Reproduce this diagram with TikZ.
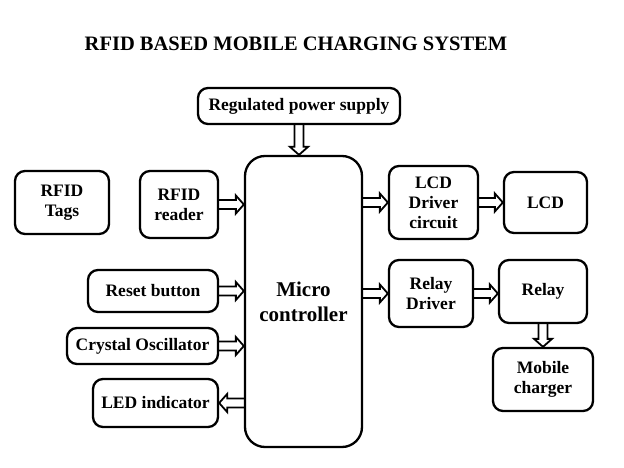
\documentclass[tikz,border=0pt]{standalone}
\usepackage{fontspec}
\setmainfont{Liberation Serif}
\usetikzlibrary{calc}
\tikzset{
  block/.style={draw, line width=2.3pt, rounded corners=10pt, align=center, inner sep=1pt,
    font=\bfseries\fontsize{17.5}{20}\selectfont},
  fat/.style={line width=1.8pt, line join=miter, to path={
    let \p1=(\tikztostart), \p2=(\tikztotarget),
        \n1={atan2(\y2-\y1,\x2-\x1)}, \n2={veclen(\x2-\x1,\y2-\y1)}
    in ($(\p1)+(\n1+90:4.5pt)$) -- ($(\p1)+(\n1:{\n2-8pt})+(\n1+90:4.5pt)$)
      -- ($(\p1)+(\n1:{\n2-8pt})+(\n1+90:9pt)$) -- (\p2)
      -- ($(\p1)+(\n1:{\n2-8pt})+(\n1-90:9pt)$) -- ($(\p1)+(\n1:{\n2-8pt})+(\n1-90:4.5pt)$)
      -- ($(\p1)+(\n1-90:4.5pt)$)}}
}
\begin{document}
\begin{tikzpicture}[x=1pt,y=-1pt]
  \useasboundingbox (0,0) rectangle (624,468);
  \node[font=\bfseries\fontsize{20.5}{24}\selectfont] (title) at (296,44) {RFID BASED MOBILE CHARGING SYSTEM};
  % blocks
  \node[block, minimum width=202pt, minimum height=36pt] (psu) at (299,106) {Regulated power supply};
  \node[block, rounded corners=20pt, minimum width=117pt, minimum height=291pt,
    font=\bfseries\fontsize{21}{25}\selectfont] (mc) at (303.5,301.5) {Micro\\controller};
  \node[block, minimum width=94pt, minimum height=63pt] (tags) at (62,202.5) {RFID\\Tags};
  \node[block, minimum width=78pt, minimum height=67pt] (reader) at (179,204.5) {RFID\\reader};
  \node[block, minimum width=130pt, minimum height=42pt] (reset) at (153,291) {Reset button};
  \node[block, minimum width=151pt, minimum height=36pt] (xtal) at (142.5,346) {Crystal Oscillator};
  \node[block, minimum width=125pt, minimum height=48pt] (led) at (155.5,403) {LED indicator};
  \node[block, minimum width=89pt, minimum height=73pt] (lcddrv) at (433.5,202.5) {LCD\\Driver\\circuit};
  \node[block, minimum width=83pt, minimum height=61pt] (lcd) at (545.5,202.5) {LCD};
  \node[block, minimum width=84pt, minimum height=67pt] (relaydrv) at (431,293.5) {Relay\\Driver};
  \node[block, minimum width=88pt, minimum height=63pt] (relay) at (543,291.5) {Relay};
  \node[block, minimum width=100pt, minimum height=63pt] (charger) at (543,379.5) {Mobile\\charger};
  % arrows
  \draw[fat] (psu.south) to (psu.south |- mc.north);
  \draw[fat] (reader.east) to (reader.east -| mc.west);
  \draw[fat] (reset.east) to (reset.east -| mc.west);
  \draw[fat] (xtal.east) to (xtal.east -| mc.west);
  \draw[fat] (led.east -| mc.west) to (led.east);
  \draw[fat] (lcddrv.west -| mc.east) to (lcddrv.west);
  \draw[fat] (lcddrv.east) to (lcddrv.east -| lcd.west);
  \draw[fat] (relaydrv.west -| mc.east) to (relaydrv.west);
  \draw[fat] (relaydrv.east) to (relaydrv.east -| relay.west);
  \draw[fat] (relay.south) to (relay.south |- charger.north);
\end{tikzpicture}
\end{document}
